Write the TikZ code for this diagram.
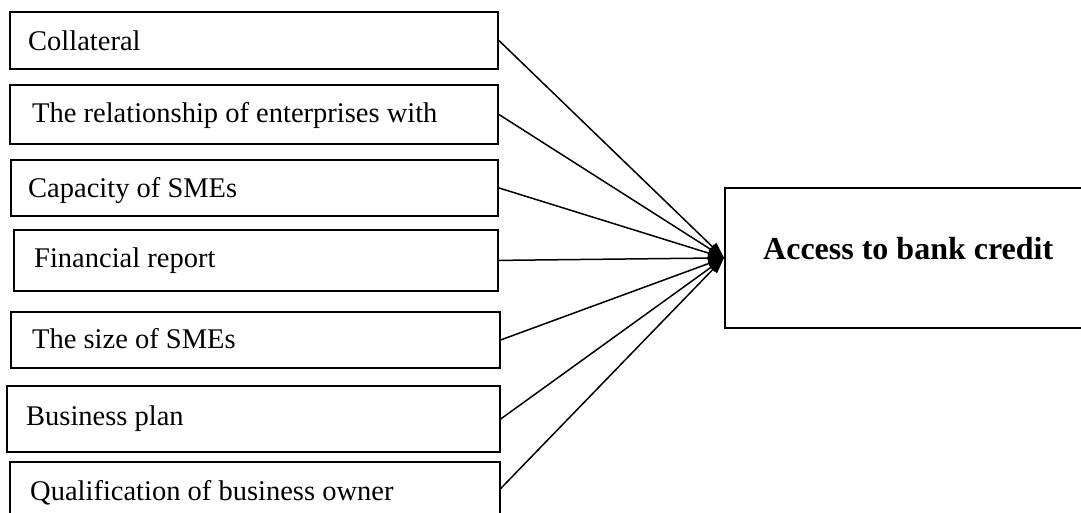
\documentclass[tikz,border=0pt]{standalone}
\usepackage{fontspec}
\setmainfont{Liberation Serif}
\usetikzlibrary{arrows.meta}
\begin{document}
\begin{tikzpicture}[x=1pt,y=-1pt,
  boxst/.style={draw=black,line width=1.8pt,rectangle,inner sep=0pt,anchor=north west},
  lbl/.style={anchor=base west,inner sep=0pt,font=\fontsize{28.5}{34}\selectfont},
  arr/.style={line width=1.5pt,-{Triangle[length=16pt,width=11pt]}}]
\clip (0,0) rectangle (1081,512);
\fill[white] (0,0) rectangle (1081,512);
% factor boxes
\node[boxst,minimum width=488pt,minimum height=57pt] (b1) at (9,11) {};
\node[boxst,minimum width=488pt,minimum height=59pt] (b2) at (9,84) {};
\node[boxst,minimum width=487pt,minimum height=56pt] (b3) at (10,159) {};
\node[boxst,minimum width=484pt,minimum height=61pt] (b4) at (13,229) {};
\node[boxst,minimum width=489pt,minimum height=56pt] (b5) at (10,311) {};
\node[boxst,minimum width=493pt,minimum height=66pt] (b6) at (6,385) {};
\node[boxst,minimum width=490pt,minimum height=53pt] (b7) at (9,461) {};
% labels
\node[lbl] (t1) at (28,50) {Collateral};
\node[lbl] (t2) at (32,122) {The relationship of enterprises with};
\node[lbl] (t3) at (28,197) {Capacity of SMEs};
\node[lbl] (t4) at (34,267) {Financial report};
\node[lbl] (t5) at (32,348) {The size of SMEs};
\node[lbl] (t6) at (26,425) {Business plan};
\node[lbl] (t7) at (30,500) {Qualification of business owner};
% outcome box
\node[boxst,minimum width=400pt,minimum height=140pt] (acc) at (724,187) {};
\node[anchor=base west,inner sep=0pt,font=\fontsize{32}{38}\selectfont\bfseries] (ta) at (763,259) {Access to bank credit};
% connectors
\foreach \b in {b1,b2,b3,b4,b5,b6,b7}{
  \draw[arr] (\b.east) -- (acc.west);
}
\end{tikzpicture}
\end{document}
